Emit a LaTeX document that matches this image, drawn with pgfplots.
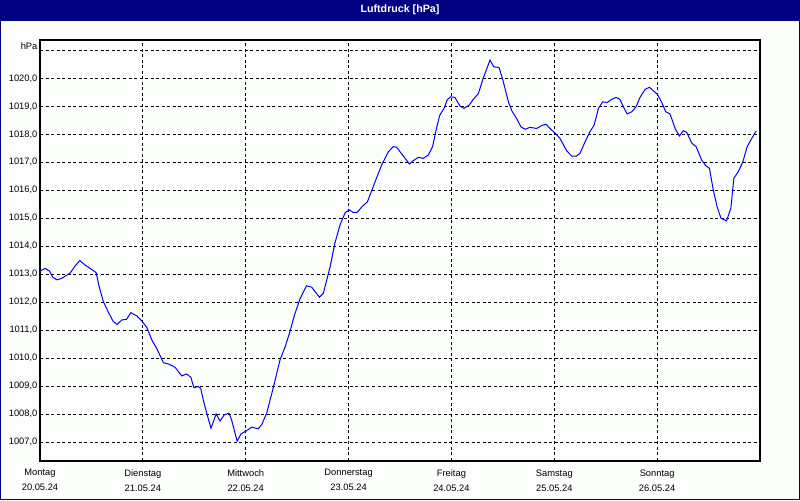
\documentclass[border=0pt]{standalone}
\usepackage{fontspec}
\setmainfont{Liberation Sans}
\usepackage{pgfplots}
\pgfplotsset{compat=1.18}
\definecolor{navybar}{RGB}{0,0,128}
\definecolor{bgc}{RGB}{252,254,252}
\begin{document}
\begin{tikzpicture}
\useasboundingbox (0,0) rectangle (600pt,-375pt);
\fill[bgc] (0,0) rectangle (600pt,-375pt);
\fill[navybar] (0,0) rectangle (600pt,-15.5pt);
\draw[navybar, line width=1pt] (0.5pt,-0.5pt) rectangle (599.5pt,-374.5pt);
\node[text=white, font=\fontsize{8}{9.6}\selectfont\bfseries] at (300pt,-7pt) {Luftdruck [hPa]};
\begin{axis}[
  at={(30pt,-345.75pt)}, anchor=south west,
  scale only axis, width=540pt, height=315.75pt,
  xmin=0, xmax=168, ymin=1006.33, ymax=1021.37,
  axis line style={line width=1pt},
  grid=major,
  major grid style={black, line width=0.75pt, dash pattern=on 2.25pt off 1.9pt},
  xtick={0,24,48,72,96,120,144},
  xticklabels={Montag\\20.05.24, Dienstag\\21.05.24, Mittwoch\\22.05.24, Donnerstag\\23.05.24, Freitag\\24.05.24, Samstag\\25.05.24, Sonntag\\26.05.24},
  ytick={1007,1008,...,1020},
  extra y ticks={1021},
  extra y tick labels={hPa},
  extra y tick style={yticklabel style={yshift=3.4pt}},
  major tick length=0pt,
  tick style={draw=none},
  /pgf/number format/assume math mode=true,
  /pgf/number format/.cd, fixed, fixed zerofill, precision=1, use comma, 1000 sep={},
  /pgfplots/.cd,
  ticklabel style={font=\fontsize{7}{11.25}\selectfont, inner sep=0pt},
  yticklabel style={xshift=-1.75pt},
  xticklabel style={align=center, yshift=-6.2pt},
]
\addplot[color={rgb,255:red,0;green,0;blue,255}, line width=0.75pt, mark=none] coordinates {
(0,1013.1) (0.4,1013.15) (1.2,1013.21) (2.2,1013.12) (3.0,1012.89) (4.0,1012.80) (5.1,1012.86)
(7.0,1013.04) (8.2,1013.30) (9.3,1013.49) (10.5,1013.33) (11.7,1013.21) (13.1,1013.06)
(13.8,1012.56) (14.8,1012.02) (15.9,1011.66) (17.1,1011.31) (18.0,1011.21) (19.1,1011.37)
(20.2,1011.39) (21.2,1011.63) (22.6,1011.51) (23.7,1011.34) (24.9,1011.11) (26.1,1010.65)
(27.2,1010.36) (28.8,1009.84) (29.9,1009.80) (31.5,1009.68) (32.3,1009.52) (33.1,1009.37)
(34.2,1009.44) (35.2,1009.32) (35.9,1008.95) (36.9,1008.99) (37.5,1008.93) (38.1,1008.51)
(38.9,1008.04) (39.9,1007.50) (41.1,1008.01) (42.0,1007.76) (43.0,1007.98) (44.1,1008.04)
(44.7,1007.80) (46.0,1007.04) (46.9,1007.30) (48.2,1007.41) (49.4,1007.54) (50.9,1007.48)
(51.7,1007.62) (52.9,1008.04) (54.4,1008.93) (56.0,1009.94) (57.2,1010.41) (58.2,1010.89)
(59.4,1011.55) (60.7,1012.14) (62.2,1012.59) (63.4,1012.54) (65.2,1012.18) (66.1,1012.32)
(67.7,1013.27) (68.8,1014.11) (70.0,1014.76) (71.2,1015.20) (72.2,1015.30) (73.1,1015.21)
(74.0,1015.21) (75.1,1015.41) (76.4,1015.59) (78.2,1016.31) (79.7,1016.90) (81.3,1017.38)
(82.4,1017.56) (83.2,1017.54) (84.8,1017.22) (86.2,1016.94) (87.1,1017.06) (88.3,1017.18)
(89.4,1017.14) (90.6,1017.26) (91.6,1017.56) (92.6,1018.27) (93.3,1018.69) (94.3,1018.93)
(95.0,1019.23) (95.8,1019.34) (96.8,1019.32) (98.0,1019.01) (98.9,1018.93) (100.2,1019.05)
(101.1,1019.25) (102.3,1019.46) (103.4,1020.00) (105.0,1020.65) (105.9,1020.41) (107.1,1020.39)
(108.0,1019.94) (109.3,1019.16) (110.1,1018.84) (111.2,1018.57) (112.2,1018.27) (113.2,1018.18)
(114.3,1018.25) (115.9,1018.21) (117.1,1018.32) (118.1,1018.36) (119.0,1018.21) (120.2,1018.04)
(121.3,1017.86) (122.9,1017.41) (124.1,1017.22) (125.1,1017.22) (126.0,1017.32) (127.2,1017.74)
(128.3,1018.09) (129.3,1018.33) (130.3,1018.93) (131.3,1019.16) (132.4,1019.14) (133.4,1019.25)
(134.4,1019.32) (135.3,1019.25) (136.1,1018.99) (137.0,1018.73) (138.1,1018.81) (139.1,1018.99)
(140.0,1019.32) (141.2,1019.61) (142.2,1019.68) (143.1,1019.56) (144.0,1019.44) (145.1,1019.13)
(146.0,1018.81) (147.0,1018.73) (148.2,1018.21) (149.2,1017.94) (150.1,1018.13) (150.9,1018.07)
(152.1,1017.68) (153.1,1017.56) (154.4,1017.08) (155.4,1016.87) (156.2,1016.79) (157.1,1016.01)
(158.0,1015.41) (158.9,1015.00) (160.2,1014.91) (161.2,1015.36) (161.9,1016.43) (162.9,1016.66)
(164.0,1017.02) (165.0,1017.56) (166.1,1017.86) (167.1,1018.12)
};
\end{axis}
\end{tikzpicture}
\end{document}
